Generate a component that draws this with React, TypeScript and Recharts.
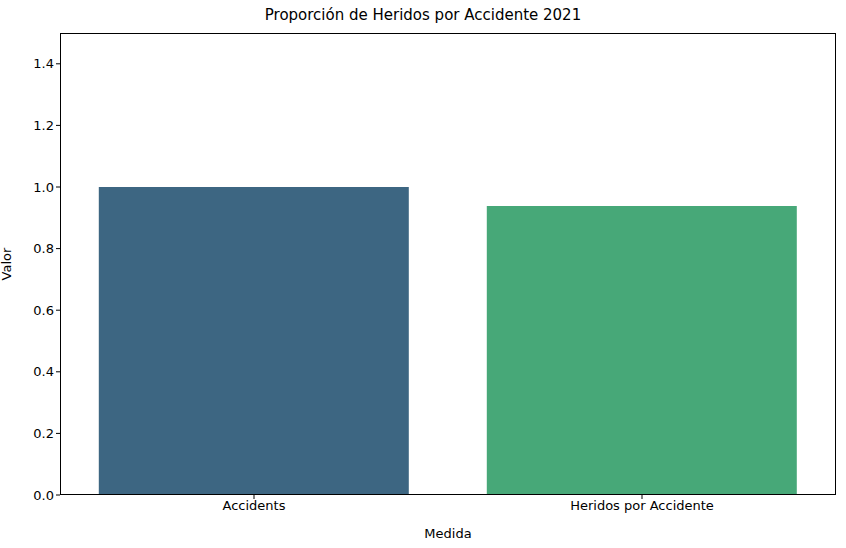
import React from "react";
import { BarChart, Bar, XAxis, YAxis, Cell, Label } from "recharts";

// categorias y valores
const medidas = ["Accidents", "Heridos por Accidente"];
const valores = [1.0, 0.938];
const colores = ["#3d6682", "#47a878"];
const yTicks = [0, 0.2, 0.4, 0.6, 0.8, 1.0, 1.2, 1.4];

const data = medidas.map((m, i) => ({ name: m, valor: valores[i] }));

const font = "DejaVu Sans, sans-serif";

const App: React.FC = () => {
  return (
    <div style={{ position: "absolute", left: 0, top: 0, width: 846, height: 548, background: "#fff", fontFamily: font }}>
      <div style={{ position: "absolute", top: 6, width: 846, textAlign: "center", fontSize: 15, color: "#000" }}>
        Proporción de Heridos por Accidente 2021
      </div>
      <BarChart
        width={846}
        height={548}
        data={data}
        margin={{ top: 33, right: 10, left: 0, bottom: 0 }}
        barCategoryGap="10%"
      >
        <XAxis
          dataKey="name"
          height={53}
          tickSize={4}
          tick={{ fill: "#000", fontSize: 13, fontFamily: font }}
          axisLine={false}
          tickLine={{ stroke: "#000" }}
        >
          <Label value="Medida" position="insideBottom" offset={10} style={{ fill: "#000", fontSize: 13, fontFamily: font }} />
        </XAxis>
        <YAxis
          width={60}
          domain={[0, 1.5]}
          ticks={yTicks}
          tickFormatter={(v: number) => v.toFixed(1)}
          tickSize={4}
          tick={{ fill: "#000", fontSize: 13, fontFamily: font }}
          axisLine={false}
          tickLine={{ stroke: "#000" }}
        >
          <Label value="Valor" angle={-90} position="insideLeft" offset={6} style={{ fill: "#000", fontSize: 13, fontFamily: font, textAnchor: "middle" }} />
        </YAxis>
        <Bar dataKey="valor" isAnimationActive={false}>
          {data.map((d, i) => (
            <Cell key={d.name} fill={colores[i]} />
          ))}
        </Bar>
      </BarChart>
      <div style={{ position: "absolute", left: 60, top: 33, width: 776, height: 462, border: "1px solid #000", boxSizing: "border-box", pointerEvents: "none" }} />
    </div>
  );
};

export default App;
